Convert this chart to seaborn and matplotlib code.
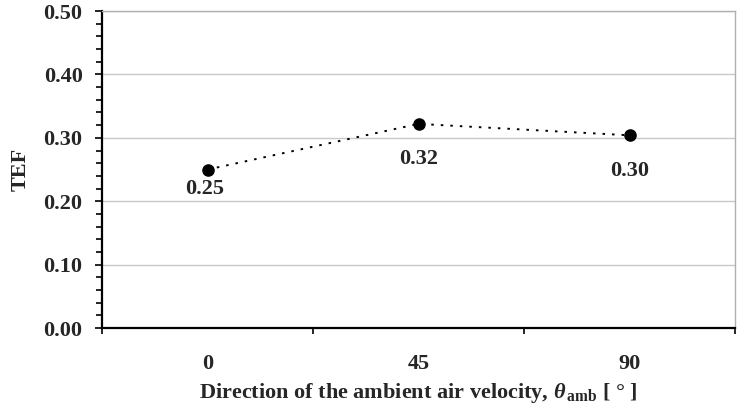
import matplotlib
matplotlib.use("Agg")
import matplotlib.pyplot as plt
import seaborn as sns
import pandas as pd
from matplotlib.ticker import MultipleLocator, FixedLocator

# ---- data ----
directions = ["0", "45", "90"]
tef = [0.250, 0.322, 0.304]
point_labels = ["0.25", "0.32", "0.30"]
y_ticks = [0.00, 0.10, 0.20, 0.30, 0.40, 0.50]

sns.set_theme(style="white")
plt.rcParams["font.family"] = ["Liberation Serif", "DejaVu Serif"]
plt.rcParams["font.weight"] = "bold"
plt.rcParams["mathtext.fontset"] = "custom"
plt.rcParams["mathtext.rm"] = "Liberation Serif:bold"
plt.rcParams["mathtext.it"] = "Liberation Serif:italic:bold"
plt.rcParams["mathtext.bf"] = "Liberation Serif:bold"

df = pd.DataFrame({"direction": directions, "TEF": tef})

fig = plt.figure(figsize=(7.37, 4.09), dpi=100)
ax = fig.add_axes([0.1384, 0.198, 0.8589, 0.775])

sns.pointplot(data=df, x="direction", y="TEF", order=directions, color="black",
              markers="o", linestyles=(0, (1.3, 3.6)), markersize=8, linewidth=1.4,
              errorbar=None, ax=ax)

FS = 16
ax.set_ylim(0, 0.5)
ax.set_xlim(-0.5, len(directions) - 0.5)
ax.yaxis.set_major_locator(FixedLocator(y_ticks))
ax.set_yticklabels([f"{v:.2f}" for v in y_ticks], fontsize=FS, fontweight="bold")
ax.yaxis.set_minor_locator(MultipleLocator(0.02))
ax.tick_params(axis="y", which="major", direction="out", length=5, width=1.2,
               color="black", left=True, pad=9)
ax.tick_params(axis="y", which="minor", direction="out", length=4, width=1.2,
               color="black", left=True)

ax.set_xticks(range(len(directions)))
ax.set_xticklabels(directions, fontsize=FS, fontweight="bold")
ax.xaxis.set_minor_locator(FixedLocator([i - 0.5 for i in range(len(directions) + 1)]))
ax.tick_params(axis="x", which="major", length=0, pad=18.5)
ax.tick_params(axis="x", which="minor", direction="out", length=4.5, width=1.2,
               color="black", bottom=True)

ax.grid(axis="y", color="#c8c8c8", linewidth=1)
ax.set_axisbelow(True)

for s in ["left", "bottom"]:
    ax.spines[s].set_color("black")
    ax.spines[s].set_linewidth(1.6)
for s in ["top", "right"]:
    ax.spines[s].set_color("#b0b0b0")
    ax.spines[s].set_linewidth(1)
    ax.spines[s].set_visible(True)

offsets = [(-2, -14), (0, -25), (0, -26)]
for i, (v, lab) in enumerate(zip(tef, point_labels)):
    ax.annotate(lab, xy=(i, v), xytext=offsets[i], textcoords="offset points",
                ha="center", va="center", fontsize=FS, fontweight="bold")

ax.set_ylabel("TEF", fontsize=FS, fontweight="bold", labelpad=9)
ax.set_xlabel(r"Direction of the ambient air velocity, $\theta_{\,\mathrm{amb}}$ [ ° ]",
              fontsize=FS, fontweight="bold", labelpad=5)

fig.savefig("out.png", dpi=100)
